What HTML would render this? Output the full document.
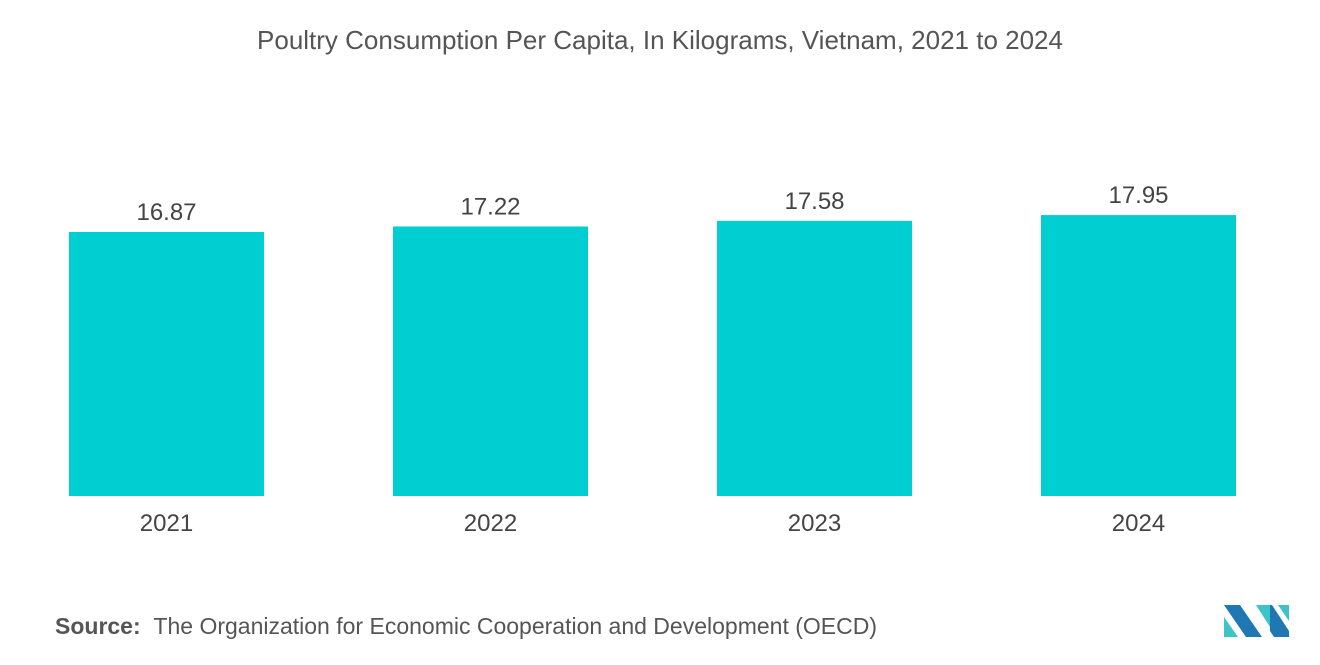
<!DOCTYPE html>
<html><head><meta charset="utf-8"><style>
body{margin:0;background:#fff;font-family:"Liberation Sans",sans-serif;}
#wrap{position:relative;width:1320px;height:665px;overflow:hidden;}
.title{position:absolute;left:0;width:1320px;top:25px;text-align:center;font-size:26px;color:#555;}
.src{position:absolute;left:55px;top:613px;font-size:23px;color:#555;}
</style></head><body>
<div id="wrap">
<div class="title">Poultry Consumption Per Capita, In Kilograms, Vietnam, 2021 to 2024</div>
<svg id="chart" width="1320" height="665" style="position:absolute;left:0;top:0"></svg>
<div class="src"><b style="color:#555">Source:</b>&nbsp;&nbsp;The Organization for Economic Cooperation and Development (OECD)</div>
<svg width="70" height="36" style="position:absolute;left:1222px;top:603px">
<polygon points="2,2 18,2 40,34 24,34" fill="#1f78b4"/>
<polygon points="2,14 2,34 16,34" fill="#3cc4c8"/>
<polygon points="34,2 48,2 48,24" fill="#3cc4c8"/>
<polygon points="48,2 50,2 67,28 67,34 52,34 48,28" fill="#1f78b4"/>
<polygon points="56,2 67,2 67,18" fill="#3cc4c8"/>
</svg>
</div>
<script>
const categories=["2021","2022","2023","2024"];
const values=[16.87,17.22,17.58,17.95];
const labels=["16.87","17.22","17.58","17.95"];
const svg=document.getElementById('chart');
const NS='http://www.w3.org/2000/svg';
const base=496, k=15.65;
function y(v){return base-v*k;}
function x(i){return 69+i*324;}
const bw=195;
categories.forEach((c,i)=>{
  const r=document.createElementNS(NS,'rect');
  r.setAttribute('x',x(i));r.setAttribute('y',y(values[i]));
  r.setAttribute('width',bw);r.setAttribute('height',base-y(values[i]));
  r.setAttribute('fill','#00ced1');
  
  
  svg.appendChild(r);
  const t=document.createElementNS(NS,'text');
  t.setAttribute('x',x(i)+bw/2);t.setAttribute('y',y(values[i])-12);
  t.setAttribute('text-anchor','middle');t.setAttribute('font-size','24');t.setAttribute('fill','#444');
  t.setAttribute('font-family','Liberation Sans, sans-serif');
  t.textContent=labels[i];
  
  
  svg.appendChild(t);
  const a=document.createElementNS(NS,'text');
  a.setAttribute('x',x(i)+bw/2);a.setAttribute('y',531);
  a.setAttribute('text-anchor','middle');a.setAttribute('font-size','24');a.setAttribute('fill','#444');
  a.setAttribute('font-family','Liberation Sans, sans-serif');
  a.textContent=c;
  
  
  svg.appendChild(a);
});
</script>
</body></html>
